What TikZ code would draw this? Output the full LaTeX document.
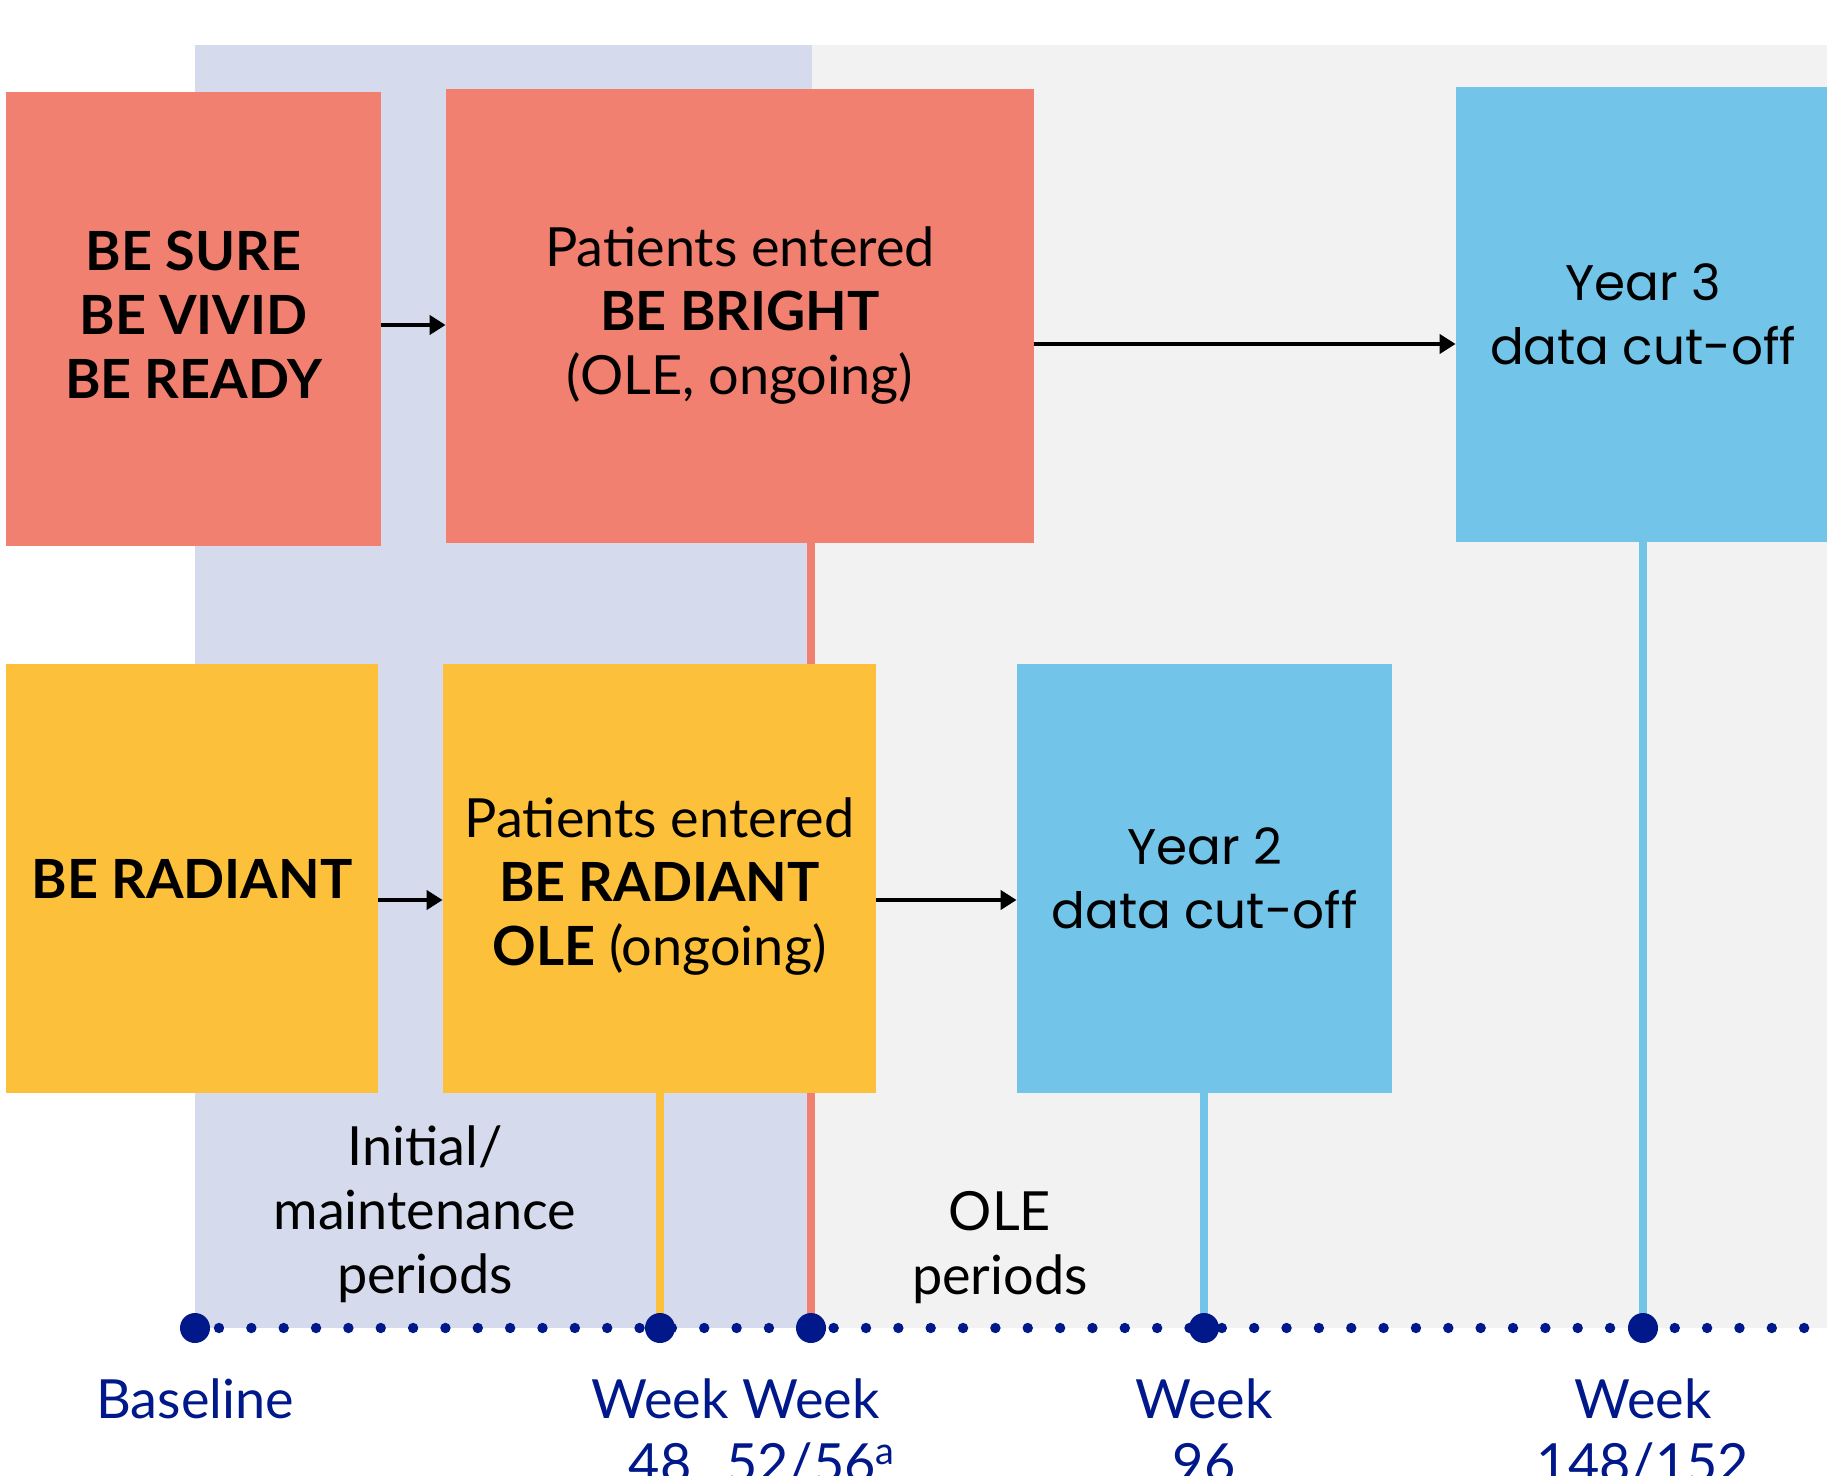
\documentclass[tikz,border=0pt]{standalone}
\usepackage{fontspec}
\setmainfont{Lato}
\newfontfamily\yearfont{Poppins}
\usetikzlibrary{arrows.meta}
\definecolor{salmon}{RGB}{241,128,112}
\definecolor{sun}{RGB}{252,192,58}
\definecolor{sky}{RGB}{114,196,232}
\definecolor{lav}{RGB}{213,219,236}
\definecolor{greybg}{RGB}{242,242,242}
\definecolor{navy}{RGB}{0,24,137}
\begin{document}
\begin{tikzpicture}[x=0.5pt,y=-0.5pt,
  box/.style={rectangle, inner sep=0pt, align=center, font=\fontsize{27}{32}\selectfont, text=black},
  txt/.style={inner sep=0pt, align=center, font=\fontsize{27}{32}\selectfont, text=black},
  yeartxt/.style={txt, font=\yearfont\fontsize{25}{32}\selectfont},
  arr/.style={line width=2pt, -{Triangle[length=8pt,width=9.5pt]}},
  vline/.style={line width=4pt},
  lbl/.style={text=navy, align=center, anchor=north, inner sep=0pt, font=\fontsize{27}{32}\selectfont},
  per/.style={align=center, inner sep=0pt, font=\fontsize{27}{32}\selectfont},
  bigdot/.style={fill=navy},
  smalldot/.style={fill=navy}]
\useasboundingbox (0,0) rectangle (1827,1476);
\fill[white] (0,0) rectangle (1827,1476);
\fill[lav] (195,45) rectangle (812,1328);
\fill[greybg] (812,45) rectangle (1827,1328);

% axis coordinates
\coordinate (b0) at (195,1328);
\coordinate (w48) at (660,1328);
\coordinate (w52) at (811,1328);
\coordinate (w96) at (1204,1328);
\coordinate (w148) at (1643,1328);

% boxes
\node[box, fill=salmon, minimum width=187.5pt, minimum height=227pt] (sure) at (193.5,319) {};
\node[box, fill=salmon, minimum width=294pt, minimum height=227pt] (bright) at (740,316) {};
\node[box, fill=sky, minimum width=187pt, minimum height=227.5pt] (year3) at (1643,314.5) {};
\node[box, fill=sun, minimum width=186pt, minimum height=214.5pt] (radiant) at (192,878.5) {};
\node[box, fill=sun, minimum width=216.5pt, minimum height=214.5pt] (ole) at (659.5,878.5) {};
\node[box, fill=sky, minimum width=187.5pt, minimum height=214.5pt] (year2) at (1204.5,878.5) {};

% vertical timeline connectors
\draw[vline, sun] (w48) -- (ole.south -| w48);
\draw[vline, salmon] (w52) -- (bright.south -| w52);
\draw[vline, sky] (w96) -- (year2.south -| w96);
\draw[vline, sky] (w148) -- (year3.south -| w148);
% redraw OLE box over the salmon line
\fill[sun] (ole.south west) rectangle (ole.north east);

% box texts
\node[txt] (suretxt) at ([yshift=2pt]sure.center) {\bfseries BE SURE\\\bfseries BE VIVID\\\bfseries BE READY};
\node[txt] (brighttxt) at (bright.center) {Patients entered\\\bfseries BE BRIGHT\\(OLE, ongoing)};
\node[yeartxt] (year3txt) at (year3.center) {Year 3\\data cut-off};
\node[txt] (radianttxt) at (radiant.center) {\bfseries BE RADIANT};
\node[txt] (oletxt) at ([yshift=-4pt]ole.center) {Patients entered\\\bfseries BE RADIANT\\{\bfseries OLE} (ongoing)};
\node[yeartxt] (year2txt) at (year2.center) {Year 2\\data cut-off};

% arrows
\draw[arr] ([yshift=-3pt]sure.east) -- ([yshift=-3pt]sure.east -| bright.west);
\draw[arr] ([yshift=-14pt]bright.east) -- ([yshift=-14pt]bright.east -| year3.west);
\draw[arr] ([yshift=-10.75pt]radiant.east) -- ([yshift=-10.75pt]radiant.east -| ole.west);
\draw[arr] ([yshift=-10.75pt]ole.east) -- ([yshift=-10.75pt]ole.east -| year2.west);

% period labels
\node[per] (initp) at (425,1214) {Initial/\\maintenance\\periods};
\node[per] (olep) at (1000,1248) {OLE\\periods};

% dotted axis
\foreach \k in {0,...,49} {
  \fill[smalldot] ({219+32.35*\k},1328) circle (2.6pt);
}
\foreach \c in {b0,w48,w52,w96,w148} {
  \fill[bigdot] (\c) circle (7.5pt);
}

% axis labels
\node[lbl] (lb0) at (195,1378) {Baseline};
\node[lbl] (lb48) at (660,1378) {Week\\48};
\node[lbl] (lb52) at (811,1378) {Week\\52/56\textsuperscript{a}};
\node[lbl] (lb96) at (1204,1378) {Week\\96};
\node[lbl] (lb148) at (1643,1378) {Week\\148/152};
\end{tikzpicture}
\end{document}
